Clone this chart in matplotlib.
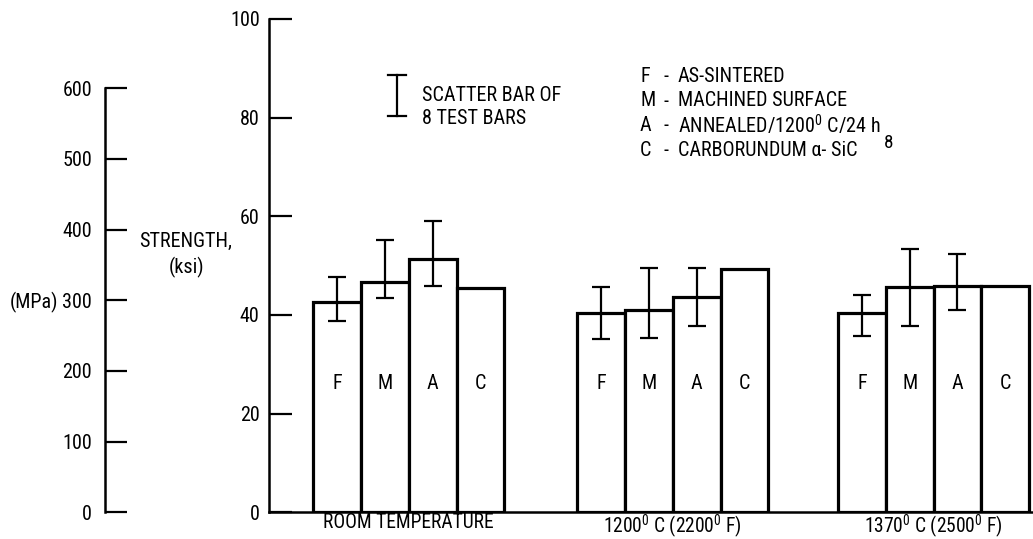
import matplotlib
matplotlib.use('Agg')
import matplotlib.pyplot as plt
from matplotlib import font_manager as fm
from matplotlib.lines import Line2D
import numpy as np


def pick_font():
    names = {f.name for f in fm.fontManager.ttflist}
    for cand in ['Liberation Sans Narrow', 'DejaVu Sans Condensed', 'Roboto Condensed',
                 'Noto Sans Condensed', 'Open Sans Condensed', 'Arial Narrow',
                 'Nimbus Sans Narrow', 'Noto Sans Display Condensed']:
        if cand in names:
            return cand, 'normal'
    for pref in ['Noto Sans', 'Open Sans', 'Roboto', 'DejaVu Sans', 'Inter']:
        for f in fm.fontManager.ttflist:
            if f.name == pref and str(f.stretch) in ('condensed', 'semi-condensed', '75', '87.5') \
                    and f.style == 'normal':
                return pref, str(f.stretch)
    for f in fm.fontManager.ttflist:
        n = f.name
        if ('Condensed' in n or 'Narrow' in n) and 'Mono' not in n and 'Serif' not in n:
            return n, 'normal'
    return 'DejaVu Sans', 'normal'


FONT, STRETCH = pick_font()
FAM = [FONT, 'DejaVu Sans']
plt.rcParams['font.family'] = FAM
plt.rcParams['font.stretch'] = STRETCH
plt.rcParams['mathtext.fontset'] = 'custom'
plt.rcParams['mathtext.rm'] = FONT
plt.rcParams['mathtext.it'] = FONT
plt.rcParams['mathtext.bf'] = FONT

# ---------------- data ----------------
conditions = ['ROOM TEMPERATURE',
              '1200$^\\mathrm{0}$ C (2200$^\\mathrm{0}$ F)',
              '1370$^\\mathrm{0}$ C (2500$^\\mathrm{0}$ F)']
treatments = ['F', 'M', 'A', 'C']

strength_room = [42.6, 46.7, 51.3, 45.5]
strength_1200 = [40.5, 41.1, 43.6, 49.4]
strength_1370 = [40.5, 45.7, 45.9, 45.9]

scatter_low_room = [38.8, 43.4, 45.9, np.nan]
scatter_high_room = [47.6, 55.1, 59.1, np.nan]
scatter_low_1200 = [35.1, 35.3, 37.7, np.nan]
scatter_high_1200 = [45.6, 49.5, 49.5, np.nan]
scatter_low_1370 = [35.8, 37.8, 41.0, np.nan]
scatter_high_1370 = [44.1, 53.4, 52.4, np.nan]

ksi_ticks = [0, 20, 40, 60, 80, 100]
mpa_ticks = [0, 100, 200, 300, 400, 500, 600]

legend_rows = [('F', 'AS-SINTERED'),
               ('M', 'MACHINED SURFACE'),
               ('A', 'ANNEALED/1200$^\\mathrm{0}$ C/24 h'),
               ('C', 'CARBORUNDUM α- SiC')]

strengths = [strength_room, strength_1200, strength_1370]
lows = [scatter_low_room, scatter_low_1200, scatter_low_1370]
highs = [scatter_high_room, scatter_high_1200, scatter_high_1370]

# ---------------- layout ----------------
W, H = 1033, 539
fig = plt.figure(figsize=(W / 100, H / 100), dpi=100)
fig.patch.set_facecolor('white')
renderer = fig.canvas.get_renderer()

# choose a font size so that the key text is close to the reference width
probe = fig.text(0, 0, 'SCATTER BAR OF', fontsize=14)
pw = probe.get_window_extent(renderer).width
probe.remove()
FS = min(14.5, 14 * 149.0 / pw)


def fx(px):
    return px / W


def fy(py):
    return 1 - py / H


y_base, y_top = 512.3, 19.0
ax_left_px = 268.7
ax = fig.add_axes([ax_left_px / W, 1 - y_base / H, (W - ax_left_px) / W, (y_base - y_top) / H])

group_start = [0.0, 5.53, 10.99]
bar_w = 1.0

for g, vals in enumerate(strengths):
    lefts = np.array([group_start[g] + j * bar_w for j in range(len(treatments))])
    centers = lefts + bar_w / 2
    ax.bar(lefts, vals, width=bar_w, align='edge', facecolor='white',
           edgecolor='black', linewidth=2.3, zorder=2)
    lo = np.array(lows[g])
    hi = np.array(highs[g])
    ok = ~np.isnan(lo)
    mid = (lo + hi) / 2
    ax.errorbar(centers[ok], mid[ok], yerr=[mid[ok] - lo[ok], hi[ok] - mid[ok]],
                fmt='none', ecolor='black', elinewidth=1.6, capsize=6.3,
                capthick=1.6, zorder=3)
    for c, t in zip(centers, treatments):
        ax.text(c, 26.1, t, ha='center', va='center', fontsize=FS, zorder=4)

ax.set_ylim(0, 100)
ax.set_xlim((ax_left_px - 313.3) / 47.75, (W - 313.3) / 47.75)
ax.spines['top'].set_visible(False)
ax.spines['right'].set_visible(False)
ax.spines['left'].set_linewidth(1.8)
ax.spines['bottom'].set_linewidth(1.8)
ax.set_yticks(ksi_ticks)
ax.set_yticklabels([str(v) for v in ksi_ticks])
ax.tick_params(axis='y', direction='in', length=16.5, width=1.6, pad=6.5, labelsize=FS)
ax.set_xticks([s + 2 * bar_w for s in group_start])
ax.set_xticklabels(conditions)
ax.tick_params(axis='x', length=0, pad=0.3, labelsize=FS * 0.97)
ax.patch.set_alpha(0)

# MPa axis
ax2 = fig.add_axes([105.3 / W, 1 - y_base / H, 0.05, (y_base - y_top) / H])
mpa_top = 600 / ((y_base - 88.3) / (y_base - y_top))
ax2.set_ylim(0, mpa_top)
for s in ['top', 'right', 'bottom']:
    ax2.spines[s].set_visible(False)
ax2.spines['left'].set_bounds(0, 600)
ax2.spines['left'].set_linewidth(1.8)
ax2.set_xticks([])
ax2.set_yticks(mpa_ticks)
ax2.set_yticklabels([str(v) for v in mpa_ticks])
ax2.tick_params(axis='y', direction='in', length=16, width=1.6, pad=9.5, labelsize=FS)
ax2.patch.set_alpha(0)

fig.text(fx(58), fy(302.3), '(MPa)', ha='right', va='center', fontsize=FS)
fig.text(fx(186), fy(241), 'STRENGTH,', ha='center', va='center', fontsize=FS)
fig.text(fx(187), fy(267), '(ksi)', ha='center', va='center', fontsize=FS)

# scatter bar key
xk = 396.7
for seg in [((xk, xk), (75, 115.7)), ((xk - 9, xk + 9), (75, 75)), ((xk - 9, xk + 9), (115.7, 115.7))]:
    fig.add_artist(Line2D([fx(v) for v in seg[0]], [fy(v) for v in seg[1]],
                          color='black', linewidth=1.6))
fig.text(fx(421.7), fy(95.7), 'SCATTER BAR OF', ha='left', va='center', fontsize=FS)
fig.text(fx(421.7), fy(118.3), '8 TEST BARS', ha='left', va='center', fontsize=FS)

# treatment key
row_y = [76.7, 101.0, 125.8, 150.8]
ends = []
for (letter, desc), yy in zip(legend_rows, row_y):
    fig.text(fx(640), fy(yy), letter, ha='left', va='center', fontsize=FS)
    fig.text(fx(663), fy(yy), '-', ha='left', va='center', fontsize=FS)
    t = fig.text(fx(678), fy(yy), desc, ha='left', va='center', fontsize=FS)
    ends.append(t.get_window_extent(renderer).x1)
x8 = max(880.0, ends[2] + 3, ends[3] + 6)
fig.text(x8 / W, fy(143.5), '8', ha='left', va='center', fontsize=FS * 0.95)

fig.savefig('out.png', dpi=100, facecolor='white')
